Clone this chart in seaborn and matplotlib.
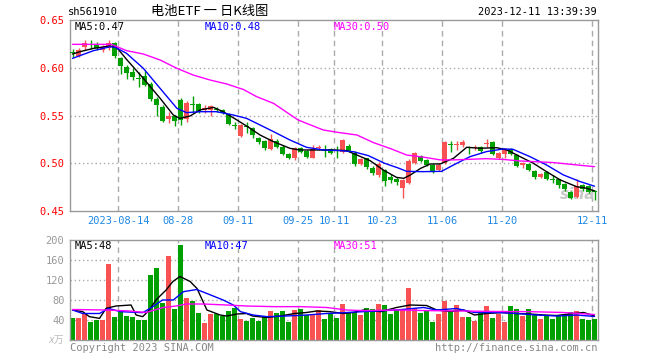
import numpy as np
import matplotlib
matplotlib.use("Agg")
import matplotlib.pyplot as plt
import seaborn as sns

# daily candles, 2023-08-02 .. 2023-12-11 (index 0..87)
opens = [0.616, 0.612, 0.622, 0.625, 0.625, 0.619, 0.621, 0.626, 0.610, 0.601,
         0.596, 0.589, 0.591, 0.583, 0.567, 0.559, 0.546, 0.549, 0.566, 0.546,
         0.562, 0.562, 0.556, 0.556, 0.557, 0.556, 0.552, 0.540, 0.529, 0.539,
         0.537, 0.526, 0.523, 0.515, 0.523, 0.517, 0.510, 0.505, 0.516, 0.513,
         0.506, 0.516, 0.514, 0.515, 0.514, 0.512, 0.518, 0.511, 0.499, 0.505,
         0.495, 0.488, 0.493, 0.486, 0.484, 0.474, 0.479, 0.500, 0.508, 0.503,
         0.498, 0.493, 0.500, 0.520, 0.519, 0.519, 0.517, 0.516, 0.517, 0.520,
         0.522, 0.505, 0.510, 0.515, 0.509, 0.498, 0.499, 0.492, 0.486, 0.491,
         0.483, 0.483, 0.478, 0.470, 0.465, 0.477, 0.476, 0.471]
highs = [0.620, 0.621, 0.629, 0.629, 0.627, 0.624, 0.629, 0.627, 0.611, 0.603,
         0.600, 0.596, 0.597, 0.585, 0.569, 0.561, 0.554, 0.551, 0.568, 0.565,
         0.570, 0.563, 0.561, 0.561, 0.559, 0.557, 0.553, 0.543, 0.541, 0.5435,
         0.538, 0.528, 0.524, 0.531, 0.525, 0.519, 0.511, 0.517, 0.517, 0.514,
         0.519, 0.519, 0.519, 0.516, 0.518, 0.525, 0.520, 0.513, 0.505, 0.506,
         0.497, 0.501, 0.494, 0.489, 0.486, 0.484, 0.504, 0.512, 0.509, 0.504,
         0.499, 0.500, 0.523, 0.523, 0.523, 0.524, 0.518, 0.519, 0.518, 0.525,
         0.523, 0.512, 0.516, 0.516, 0.510, 0.501, 0.500, 0.493, 0.490, 0.492,
         0.488, 0.484, 0.479, 0.471, 0.483, 0.478, 0.477, 0.472]
lows = [0.611, 0.611, 0.619, 0.620, 0.619, 0.617, 0.619, 0.610, 0.593, 0.588,
        0.587, 0.580, 0.581, 0.565, 0.549, 0.543, 0.542, 0.539, 0.540, 0.543,
        0.554, 0.553, 0.553, 0.550, 0.554, 0.552, 0.540, 0.536, 0.527, 0.532,
        0.526, 0.520, 0.514, 0.514, 0.516, 0.509, 0.504, 0.503, 0.511, 0.505,
        0.505, 0.514, 0.507, 0.510, 0.506, 0.511, 0.512, 0.497, 0.498, 0.494,
        0.488, 0.486, 0.476, 0.479, 0.477, 0.464, 0.478, 0.499, 0.501, 0.497,
        0.490, 0.492, 0.499, 0.512, 0.514, 0.517, 0.510, 0.514, 0.511, 0.517,
        0.509, 0.504, 0.505, 0.509, 0.496, 0.495, 0.492, 0.483, 0.485, 0.482,
        0.479, 0.474, 0.471, 0.463, 0.464, 0.471, 0.469, 0.462]
closes = [0.615, 0.619, 0.626, 0.624, 0.621, 0.622, 0.626, 0.612, 0.602, 0.594,
          0.590, 0.588, 0.582, 0.567, 0.561, 0.544, 0.549, 0.544, 0.545, 0.563,
          0.561, 0.554, 0.558, 0.560, 0.556, 0.553, 0.541, 0.539, 0.540, 0.538,
          0.530, 0.522, 0.516, 0.525, 0.517, 0.510, 0.506, 0.516, 0.512, 0.507,
          0.515, 0.517, 0.513, 0.511, 0.513, 0.524, 0.513, 0.499, 0.504, 0.496,
          0.490, 0.499, 0.481, 0.482, 0.480, 0.482, 0.502, 0.511, 0.502, 0.498,
          0.492, 0.498, 0.522, 0.519, 0.520, 0.522, 0.516, 0.517, 0.513, 0.521,
          0.510, 0.511, 0.515, 0.510, 0.497, 0.500, 0.493, 0.486, 0.489, 0.484,
          0.482, 0.477, 0.473, 0.464, 0.476, 0.473, 0.470, 0.470]
# volume, 万手
volume = [45, 45, 55, 36, 40, 40, 152, 47, 57, 48,
          47, 40, 40, 130, 144, 75, 168, 62, 190, 85,
          79, 55, 35, 52, 52, 48, 59, 65, 43, 39,
          45, 39, 48, 59, 55, 59, 37, 60, 63, 50,
          50, 61, 43, 53, 45, 72, 57, 57, 50, 64,
          62, 72, 70, 53, 61, 60, 104, 65, 55, 60,
          37, 52, 78, 57, 70, 46, 46, 38, 57, 68,
          45, 52, 37, 68, 62, 48, 62, 50, 43, 51,
          43, 50, 48, 56, 58, 43, 41, 43]

# moving average lines (bar index, value)
ma5_x = [0, 1.25, 3.5, 6.25, 7.4, 9, 11.8, 14.6, 16.8, 17.9, 19.6, 21.25, 23.5, 25.1,
         27.4, 29.6, 31.25, 33.5, 36.25, 37.9, 40.7, 43.5, 45.7, 47.4, 49.6, 51.8,
         54, 55.2, 56.3, 58, 59.6, 61.3, 63.5, 65.7, 67.9, 70.7, 72.4, 74.6, 76.8,
         79, 81.3, 84, 85.7, 87]
ma5_y = [0.6144, 0.6168, 0.6203, 0.6228, 0.621, 0.6088, 0.5889, 0.568, 0.5505, 0.547,
         0.5495, 0.5558, 0.5585, 0.554, 0.5453, 0.5366, 0.5296, 0.5226, 0.5156, 0.5139,
         0.5139, 0.5139, 0.5132, 0.5086, 0.5027, 0.4929, 0.4852, 0.4842, 0.4877,
         0.4946, 0.4992, 0.4993, 0.5052, 0.5167, 0.5157, 0.5163, 0.5139, 0.5069,
         0.5, 0.4912, 0.4825, 0.4755, 0.4738, 0.471]
ma10_x = [0, 3.5, 6.25, 7.1, 9, 11.8, 14.6, 17.4, 19, 21.25, 24, 26.8, 29, 30.7, 33.5,
          36.25, 39, 41.8, 44.6, 46.8, 49.3, 52, 54.3, 55.7, 58.4, 61.5, 63.5, 66.25,
          69, 71.8, 73.4, 76.25, 79, 81.8, 84.6, 87]
ma10_y = [0.6098, 0.6179, 0.622, 0.6215, 0.6151, 0.5994, 0.5784, 0.5575, 0.553, 0.554,
          0.554, 0.5505, 0.547, 0.5418, 0.5331, 0.5243, 0.5167, 0.5139, 0.5132, 0.5121,
          0.508, 0.500, 0.495, 0.4915, 0.4912, 0.4915, 0.4982, 0.5069, 0.5122, 0.515,
          0.5146, 0.5069, 0.4982, 0.4878, 0.4808, 0.476]
ma30_x = [0, 6.5, 9, 11.8, 14.6, 17.4, 20.1, 22.9, 25.7, 28.5, 30.7, 33.5, 37.6, 41.8,
          44.6, 47.4, 50.2, 53.1, 55.7, 58.4, 61.3, 63.5, 69, 71.8, 74.6, 80.2, 85.7, 87]
ma30_y = [0.6245, 0.6245, 0.6179, 0.6144, 0.6081, 0.5994, 0.5924, 0.5872, 0.583, 0.5772,
          0.5697, 0.5627, 0.5453, 0.5348, 0.532, 0.5296, 0.5215, 0.5151, 0.5086, 0.5065,
          0.5035, 0.5035, 0.5048, 0.504, 0.5024, 0.5007, 0.4972, 0.4965]

vma5_x = [0, 1.7, 2.8, 4.5, 5.6, 7.25, 9.75, 10.6, 11.7, 12.8, 13.9, 15.6, 16.7, 17.9,
          19.6, 20.75, 22.4, 24.6, 25.7, 27.4, 29, 30, 32.4, 34.6, 37, 39, 40.7, 42.9,
          45.1, 46.8, 48.5, 51.4, 54, 56.25, 59, 60.7, 63, 65.2, 67, 69, 71.8, 74,
          76.25, 78.5, 80.7, 83.5, 85.2, 87]
vma5_y = [60, 56.7, 46.7, 43.3, 63.3, 68, 70, 50, 46.7, 60, 80, 100, 116.7, 127,
          117, 103, 60, 50, 48, 52, 53, 48, 45, 48, 53, 55, 58, 56.7,
          53, 55, 60, 56.7, 65, 70, 69, 60, 57, 60, 50, 53, 55, 53,
          52, 50, 49, 53, 55, 48]
vma10_x = [0, 1.7, 4.5, 6, 8, 11.7, 13.4, 15, 16.8, 18.5, 20.7, 22.4, 25.1, 26.8, 28,
           30.1, 32.4, 35.7, 39, 42.4, 48.5, 54, 58.5, 60.7, 64, 67, 70.7, 74, 77.4,
           80.7, 84, 87]
vma10_y = [60, 53, 53, 63, 56.7, 54.7, 66.7, 80, 80, 96.7, 101, 93, 80, 70, 56.7,
           50, 46.7, 48, 50, 53, 56.7, 60, 65, 60, 63, 55, 55, 53, 50,
           48, 50, 47]
vma30_x = [0, 5.6, 9.5, 12.25, 15, 17.25, 19, 21.8, 25.7, 29, 33.5, 38, 42.4, 45.7,
           48.5, 54, 59.6, 65.2, 70.7, 76.25, 81.8, 87]
vma30_y = [61, 60, 58, 55, 64.7, 68, 72, 72, 70, 68, 66.7, 66.7, 65, 60,
           58.7, 60, 58.7, 58, 57, 56.7, 55, 51]

date_idx = [8, 18, 28, 38, 44, 52, 62, 72, 87]
date_lbl = ["2023-08-14", "08-28", "09-11", "09-25", "10-11", "10-23", "11-06", "11-20", "12-11"]

RED = "#f85252"
GREEN = "#00a000"
GRID = "#aaaaaa"
MONO = "DejaVu Sans Mono"

sns.set_style("white")
plt.rcParams["font.family"] = ["DejaVu Sans Mono", "Noto Sans CJK SC"]

idx = np.arange(len(closes))
o = np.array(opens); c = np.array(closes)
colors = [RED if cc > oo else GREEN for oo, cc in zip(o, c)]

fig = plt.figure(figsize=(6.6, 3.6), dpi=100)
ax = fig.add_axes([70 / 660, 1 - 211 / 360, 528 / 660, 191 / 360])
axv = fig.add_axes([70 / 660, 20 / 360, 528 / 660, 100 / 360])

xmin, xmax = -0.42, 87.58
edge = 0.42

for a in (ax, axv):
    a.set_xlim(xmin, xmax)
    a.set_xticks([])
    for s in a.spines.values():
        s.set_color("#999999")
        s.set_linewidth(1)
    for d in date_idx:
        a.axvline(d - edge, color=GRID, lw=1, ls=(0, (4, 3)), zorder=0)

# --- price panel
ax.set_ylim(0.45, 0.65)
for yv in [0.50, 0.55, 0.60]:
    ax.axhline(yv, color=GRID, lw=1, ls=(0, (1, 2)), zorder=0)
ax.vlines(idx, lows, highs, colors=colors, lw=1, zorder=2)
body = np.maximum(np.abs(c - o), 0.0009)
ax.bar(idx, body, bottom=np.minimum(o, c), width=0.8, color=colors, lw=0, zorder=3)

sns.lineplot(x=ma5_x, y=ma5_y, color="black", lw=1, ax=ax, zorder=4)
sns.lineplot(x=ma10_x, y=ma10_y, color="#0000ff", lw=1, ax=ax, zorder=4)
sns.lineplot(x=ma30_x, y=ma30_y, color="#ff00ff", lw=1, ax=ax, zorder=4)

ax.set_yticks([0.45, 0.50, 0.55, 0.60, 0.65])
ax.set_yticklabels(["0.45", "0.50", "0.55", "0.60", "0.65"], color="red", fontsize=7.5)
ax.tick_params(axis="y", length=0, pad=4)
ax.set_ylabel("")

ax.text(0.008, 0.965, "MA5:0.47", transform=ax.transAxes, color="black", fontsize=7.5, va="center")
ax.text(0.255, 0.965, "MA10:0.48", transform=ax.transAxes, color="#0000ff", fontsize=7.5, va="center")
ax.text(0.50, 0.965, "MA30:0.50", transform=ax.transAxes, color="#ff00ff", fontsize=7.5, va="center")
ax.text(0.995, 0.085, "sina", transform=ax.transAxes, color="#c8c8c8", fontsize=11,
        fontweight="bold", style="italic", ha="right", va="center", family="DejaVu Sans", zorder=1)

for d, lbl in zip(date_idx, date_lbl):
    ax.text(d - edge, -0.052, lbl, transform=ax.get_xaxis_transform(), color="#1e88e5",
            fontsize=7.5, ha="center", va="center")

# --- volume panel
axv.set_ylim(0, 200)
for yv in [40, 80, 120, 160]:
    axv.axhline(yv, color=GRID, lw=1, ls=(0, (1, 2)), zorder=0)
axv.bar(idx, volume, width=0.8, color=colors, lw=0, zorder=2)
sns.lineplot(x=vma5_x, y=vma5_y, color="black", lw=1, ax=axv, zorder=4)
sns.lineplot(x=vma10_x, y=vma10_y, color="#0000ff", lw=1, ax=axv, zorder=4)
sns.lineplot(x=vma30_x, y=vma30_y, color="#ff00ff", lw=1, ax=axv, zorder=4)
axv.set_yticks([40, 80, 120, 160, 200])
axv.set_yticklabels(["40", "80", "120", "160", "200"], color="#999999", fontsize=7.5)
axv.tick_params(axis="y", length=0, pad=4)
axv.set_ylabel("")
axv.text(-0.012, 0.0, "x万", transform=axv.transAxes, color="#bbbbbb", fontsize=7,
         ha="right", va="center", style="italic")

axv.text(0.008, 0.94, "MA5:48", transform=axv.transAxes, color="black", fontsize=7.5, va="center")
axv.text(0.255, 0.94, "MA10:47", transform=axv.transAxes, color="#0000ff", fontsize=7.5, va="center")
axv.text(0.50, 0.94, "MA30:51", transform=axv.transAxes, color="#ff00ff", fontsize=7.5, va="center")

# --- header / footer
fig.text(68 / 660, 1 - 12 / 360, "sh561910", color="black", fontsize=7.5, va="center")
fig.text(210 / 660, 1 - 12 / 360, "电池ETF 一 日K线图", color="black", fontsize=9.5,
         ha="center", va="center", family=["Noto Sans CJK SC", "DejaVu Sans"])
fig.text(597 / 660, 1 - 12 / 360, "2023-12-11 13:39:39", color="black", fontsize=7.5,
         ha="right", va="center")
fig.text(70 / 660, 1 - 348 / 360, "Copyright 2023 SINA.COM", color="#888888", fontsize=7.5, va="center")
fig.text(598 / 660, 1 - 348 / 360, "http://finance.sina.com.cn", color="#888888", fontsize=7.5,
         ha="right", va="center")

fig.savefig("out.png", dpi=100, facecolor="white")
